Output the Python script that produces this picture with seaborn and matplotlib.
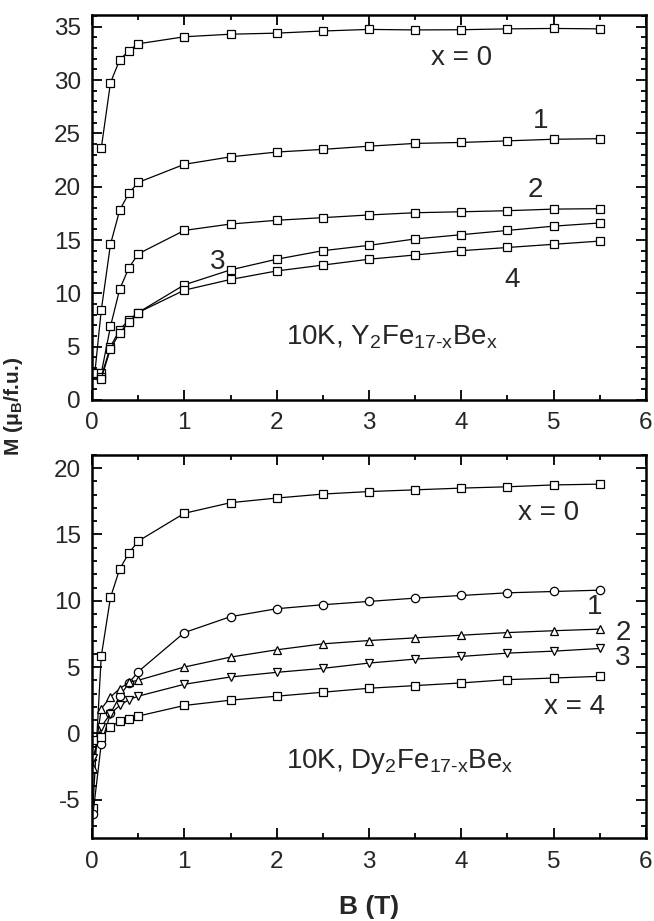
import seaborn as sns
import matplotlib
matplotlib.use("Agg")
import matplotlib.pyplot as plt
from matplotlib.ticker import MultipleLocator

# ==============================
# Data
# ==============================
B_Y = [0.1, 0.2, 0.3, 0.4, 0.5, 1.0, 1.5, 2.0, 2.5, 3.0, 3.5, 4.0, 4.5, 5.0, 5.5]
B_Y1 = [0.03] + B_Y
Y_x0 = [23.6, 29.75, 31.9, 32.75, 33.4, 34.06, 34.3, 34.4, 34.6, 34.75, 34.7, 34.72, 34.8, 34.84, 34.8]
Y_x1 = [2.5, 8.4, 14.6, 17.8, 19.4, 20.4, 22.1, 22.8, 23.25, 23.5, 23.8, 24.06, 24.15, 24.3, 24.45, 24.5]
Y_x2 = [2.5, 6.9, 10.4, 12.4, 13.7, 15.9, 16.5, 16.85, 17.1, 17.35, 17.56, 17.65, 17.75, 17.9, 17.94]
Y_x3 = [2.2, 5.0, 6.6, 7.5, 8.2, 10.8, 12.2, 13.2, 14.0, 14.5, 15.1, 15.5, 15.9, 16.3, 16.6]
Y_x4 = [2.0, 4.8, 6.3, 7.3, 8.2, 10.3, 11.3, 12.1, 12.65, 13.2, 13.6, 14.0, 14.3, 14.6, 14.9]

B_D = [0.01, 0.1, 0.2, 0.3, 0.4, 0.5, 1.0, 1.5, 2.0, 2.5, 3.0, 3.5, 4.0, 4.5, 5.0, 5.5]
D_x0 = [-5.6, 5.8, 10.25, 12.4, 13.6, 14.5, 16.6, 17.4, 17.75, 18.05, 18.24, 18.37, 18.5, 18.6, 18.74, 18.8]
D_x1 = [-6.1, -0.8, 1.5, 2.8, 3.8, 4.65, 7.6, 8.8, 9.4, 9.7, 9.95, 10.2, 10.4, 10.6, 10.7, 10.8]
D_x2 = [-2.6, 1.85, 2.74, 3.37, 3.85, 4.0, 5.0, 5.75, 6.3, 6.75, 7.0, 7.2, 7.4, 7.6, 7.74, 7.86]
D_x3 = [-1.9, 0.5, 1.48, 2.1, 2.54, 2.8, 3.7, 4.25, 4.6, 4.9, 5.3, 5.6, 5.8, 6.05, 6.2, 6.4]
D_x4 = [-0.5, -0.3, 0.5, 0.9, 1.1, 1.3, 2.1, 2.5, 2.8, 3.1, 3.4, 3.6, 3.8, 4.05, 4.17, 4.3]

# ==============================
# Style
# ==============================
sns.set_theme(style="ticks")
plt.rcParams['font.family'] = ['Liberation Sans', 'DejaVu Sans']
plt.rcParams['mathtext.fontset'] = 'custom'
plt.rcParams['mathtext.rm'] = 'Liberation Sans'
plt.rcParams['mathtext.it'] = 'Liberation Sans'
plt.rcParams['mathtext.bf'] = 'Liberation Sans:bold'
plt.rcParams['axes.unicode_minus'] = False

fig = plt.figure(figsize=(6.54, 9.21), dpi=100)
ax_top = fig.add_axes([0.1407, 0.5657, 0.847, 0.418])
ax_bot = fig.add_axes([0.1407, 0.0901, 0.847, 0.4159])

line_kws = dict(color='black', linewidth=0.9, markersize=6,
                markerfacecolor='white', markeredgecolor='black',
                markeredgewidth=0.9, estimator=None, sort=False)

# top panel: Y2Fe17-xBex
for b, m in [(B_Y, Y_x0), (B_Y1, Y_x1), (B_Y, Y_x2), (B_Y, Y_x3), (B_Y, Y_x4)]:
    sns.lineplot(x=b, y=m, marker='s', ax=ax_top, **line_kws)

# bottom panel: Dy2Fe17-xBex
for m, mk in [(D_x0, 's'), (D_x1, 'o'), (D_x2, '^'), (D_x3, 'v'), (D_x4, 's')]:
    sns.lineplot(x=B_D, y=m, marker=mk, ax=ax_bot, **line_kws)

for ax in (ax_top, ax_bot):
    ax.set_xlim(0, 6)
    ax.xaxis.set_major_locator(MultipleLocator(1))
    ax.xaxis.set_minor_locator(MultipleLocator(0.5))
    ax.yaxis.set_major_locator(MultipleLocator(5))
    ax.yaxis.set_minor_locator(MultipleLocator(1))
    ax.tick_params(which='both', direction='in', top=True, right=True,
                   labelsize=17.5, width=1.3, color='black')
    ax.tick_params(which='major', length=7)
    ax.tick_params(which='minor', length=3.5)
    ax.tick_params(axis='y', which='major', pad=8)
    ax.tick_params(axis='x', which='major', pad=9)
    for s in ax.spines.values():
        s.set_linewidth(1.8)
        s.set_color('black')
    ax.set_xlabel('')
    ax.set_ylabel('')

ax_top.set_ylim(0, 36.1)
ax_bot.set_ylim(-7.9, 21)

# series labels
txt = dict(fontsize=20, ha='center', va='center')
ax_top.text(4.0, 32.1, 'x = 0', **txt)
ax_top.text(4.86, 26.2, '1', **txt)
ax_top.text(4.8, 19.7, '2', **txt)
ax_top.text(1.36, 12.9, '3', **txt)
ax_top.text(4.55, 11.25, '4', **txt)
ax_top.text(2.1, 5.9, r'10K, Y$_\mathrm{2}$Fe$_\mathrm{17\text{-}x}$Be$_\mathrm{x}$',
            fontsize=20, ha='left', va='center')

ax_bot.text(4.94, 16.6, 'x = 0', **txt)
ax_bot.text(5.44, 9.55, '1', **txt)
ax_bot.text(5.75, 7.6, '2', **txt)
ax_bot.text(5.75, 5.7, '3', **txt)
ax_bot.text(5.23, 2.0, 'x = 4', **txt)
ax_bot.text(2.1, -2.1, r'10K, Dy$_\mathrm{2}$Fe$_\mathrm{17\text{-}x}$Be$_\mathrm{x}$',
            fontsize=20, ha='left', va='center')

# axis labels
fig.text(369 / 654, 1 - 907 / 921, 'B (T)', fontsize=19, fontweight='bold',
         ha='center', va='center')
fig.text(14 / 654, 1 - 406 / 921, r'M (μ$_\mathbf{B}$/f.u.)', fontsize=15,
         fontweight='bold', rotation=90, ha='center', va='center')

fig.savefig('out.png', dpi=100)
